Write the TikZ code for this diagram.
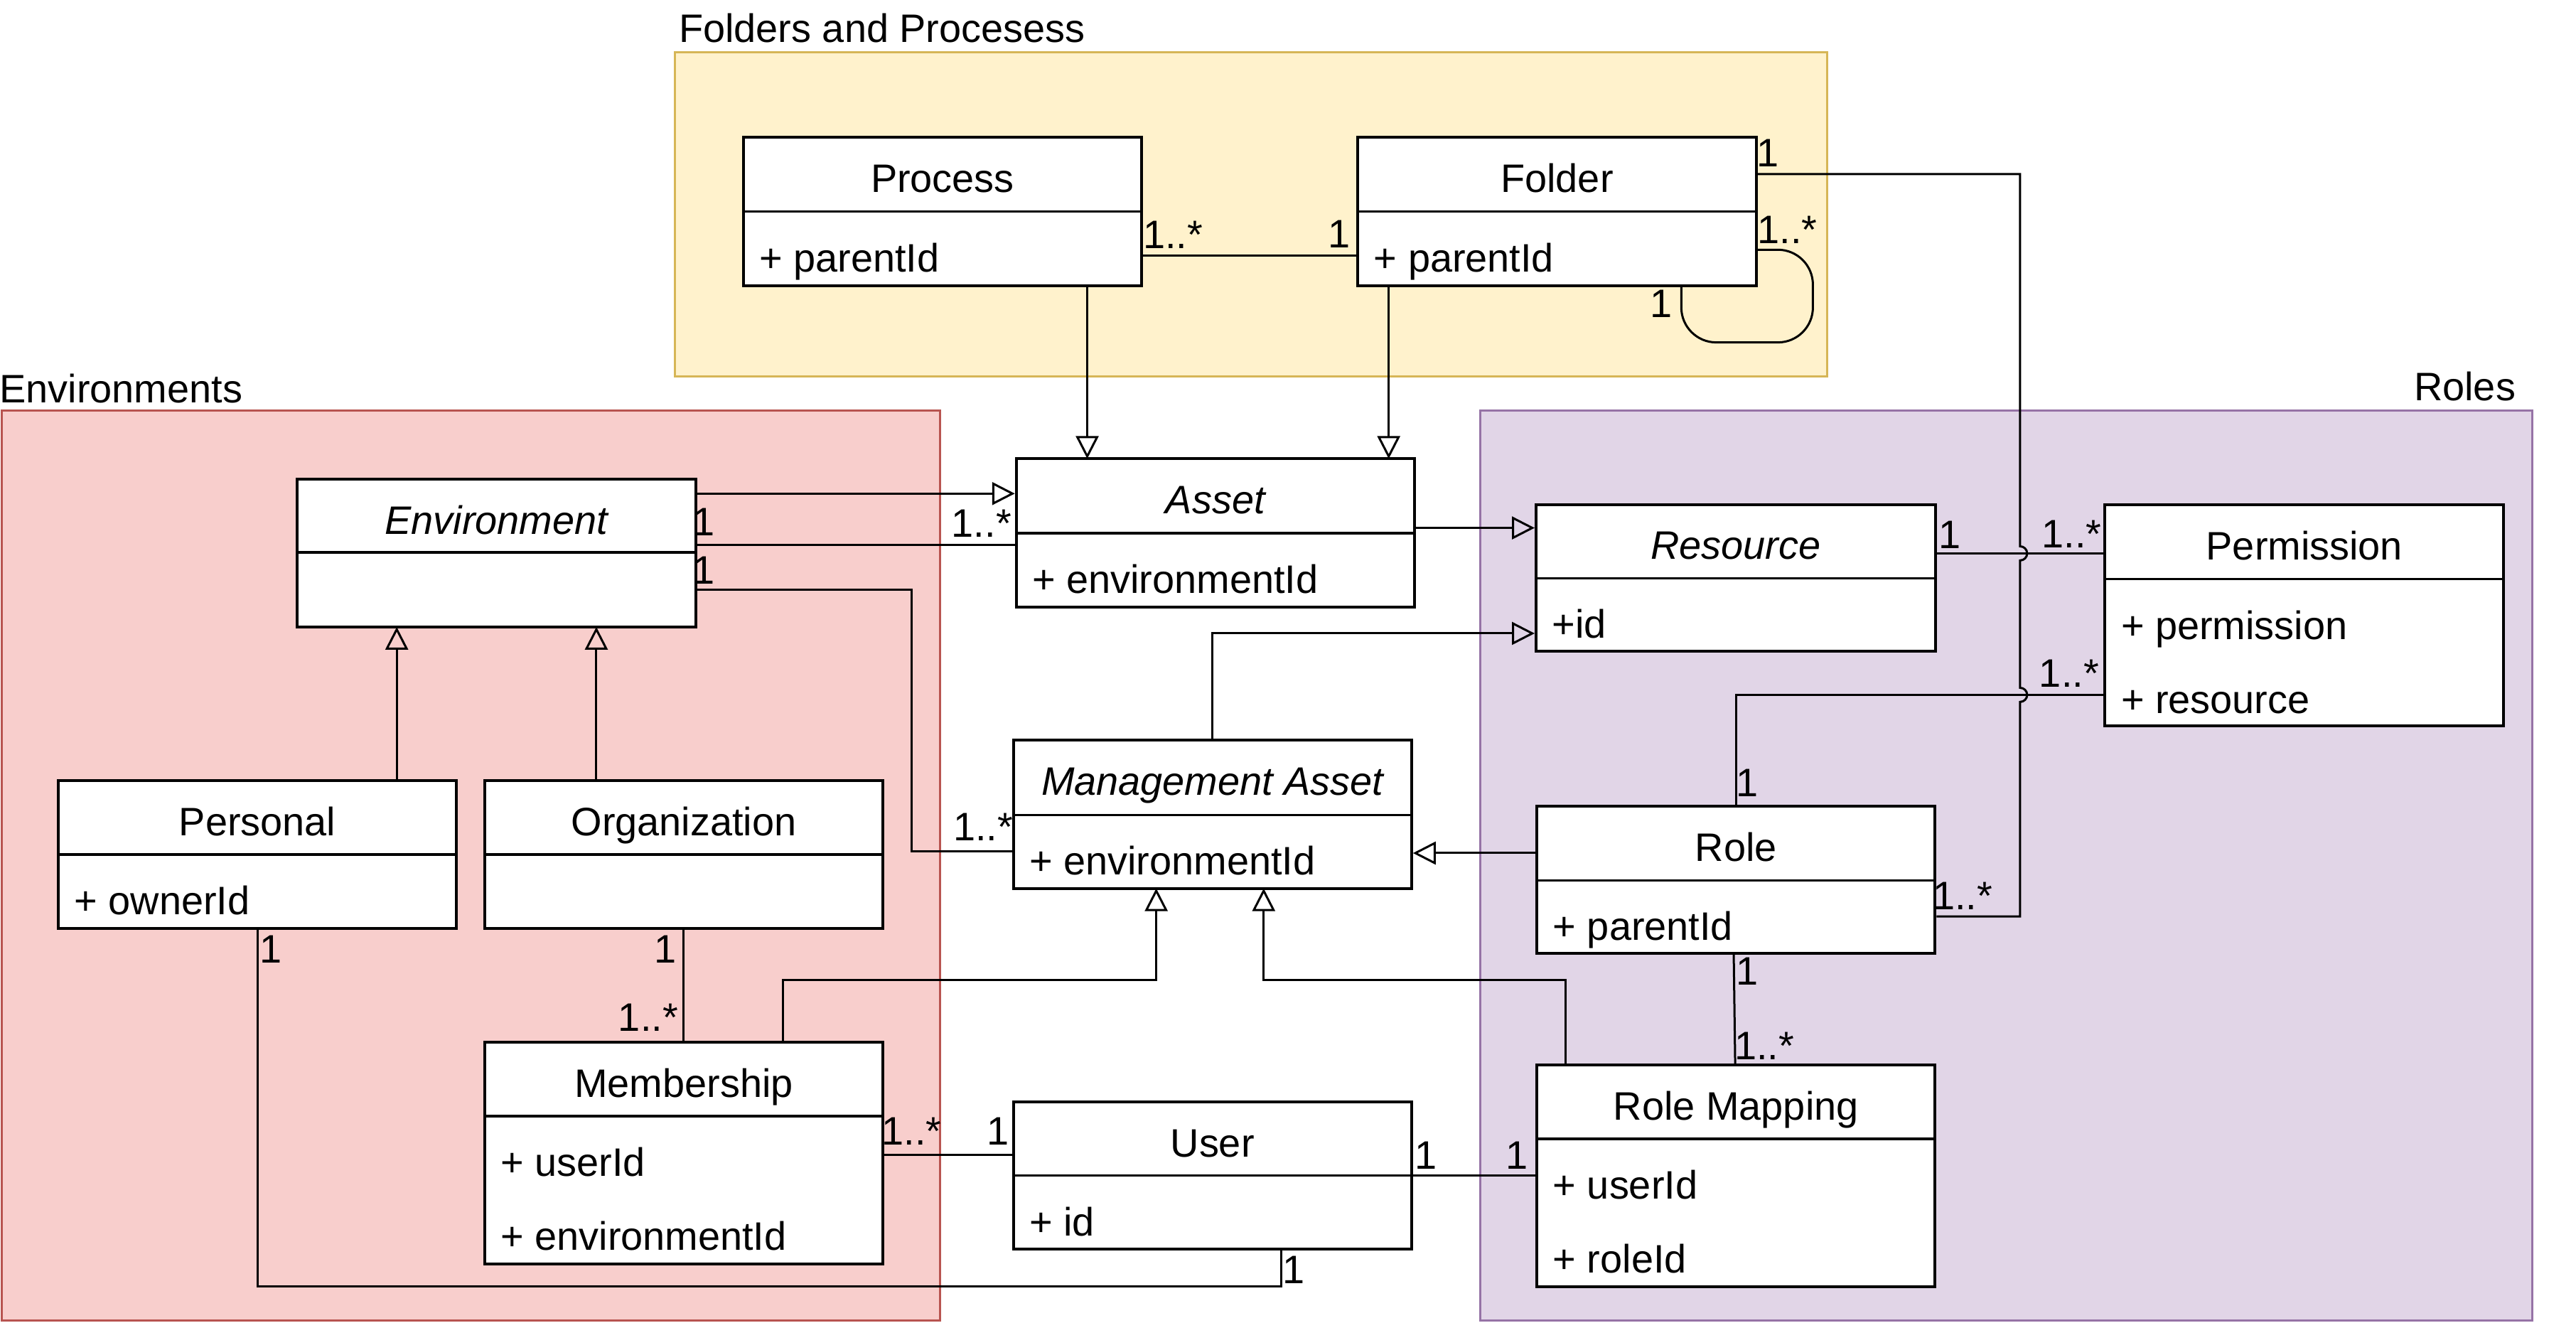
\documentclass[tikz,border=0pt]{standalone}
\usepackage{fontspec}
\setmainfont{Liberation Sans}
\usetikzlibrary{arrows.meta,fit}
\definecolor{yF}{HTML}{FFF2CC}\definecolor{yD}{HTML}{D6B656}
\definecolor{rF}{HTML}{F8CECC}\definecolor{rD}{HTML}{B85450}
\definecolor{pF}{HTML}{E1D5E7}\definecolor{pD}{HTML}{9673A6}
\newcommand{\umlbox}[7]{%
  \node[cls, fit={(#2,#3) (#4,#6)}] (#1) {};
  \draw[clsline] (#2,#5) -- (#4,#5);
  \node[ttl] (#1-t) at ({(#2+#4)/2},{#3+33.5}) {#7};
}
\newcommand{\umlattr}[5]{%
  \node[attr] (#1) at ({#2+9.5},{#3+36.5+45*#4}) {#5};
}
\begin{document}
\begin{tikzpicture}[x=0.023112cm,y=-0.023112cm,
  every node/.style={font=\fontsize{15.9}{18}\selectfont},
  cls/.style={draw=black, fill=white, line width=0.4mm, inner sep=0pt},
  clsline/.style={line width=0.35mm, black},
  ttl/.style={anchor=base, inner sep=0pt},
  attr/.style={anchor=base west, inner sep=0pt},
  mult/.style={anchor=base west, inner sep=0pt},
  glabel/.style={anchor=base west, inner sep=0pt},
  conn/.style={line width=0.3mm, black},
  gen/.style={conn, -{Triangle[open, length=9.1pt, width=9.1pt]}},
  grp/.style={line width=0.3mm, inner sep=0pt},
]
\useasboundingbox (0,0) rectangle (1568,805);

% groups
\node[grp, draw=yD, fill=yF, fit={(411,32) (1112,229)}] (gfold) {};
\node[grp, draw=rD, fill=rF, fit={(1,250) (572,803.5)}] (genv) {};
\node[grp, draw=pD, fill=pF, fit={(901,250) (1541.3,803.5)}] (groles) {};
\node[glabel] (gfold-l) at (413,25.7) {Folders and Procesess};
\node[glabel] (genv-l) at (-0.5,245) {Environments};
\node[anchor=base east, inner sep=0pt] (groles-l) at (1531.5,243.7) {Roles};

% classes
\umlbox{proc}{452.4}{83.7}{695}{128.8}{174}{Process}
\umlattr{proc-a1}{452.4}{128.8}{0}{+ parentId}
\umlbox{fold}{826.5}{83.7}{1069}{128.8}{174}{Folder}
\umlattr{fold-a1}{826.5}{128.8}{0}{+ parentId}
\umlbox{env}{180.8}{291.7}{423.4}{336.2}{381.6}{\itshape Environment}
\umlbox{asset}{618.6}{279.2}{861}{324.6}{369.6}{\itshape Asset}
\umlattr{asset-a1}{618.6}{324.6}{0}{+ environmentId}
\umlbox{res}{935}{307}{1178}{352}{396.5}{\itshape Resource}
\umlattr{res-a1}{935}{352}{0}{+id}
\umlbox{perm}{1281.3}{307.2}{1524}{352.5}{441.8}{Permission}
\umlattr{perm-a1}{1281.3}{352.5}{0}{+ permission}
\umlattr{perm-a2}{1281.3}{352.5}{1}{+ resource}
\umlbox{ma}{616.8}{450.5}{859.2}{496}{540.7}{\itshape Management Asset}
\umlattr{ma-a1}{616.8}{496}{0}{+ environmentId}
\umlbox{pers}{35.5}{475}{277.8}{520}{565}{Personal}
\umlattr{pers-a1}{35.5}{520}{0}{+ ownerId}
\umlbox{org}{295}{475}{537.4}{520}{565}{Organization}
\umlbox{role}{935.5}{490.7}{1177.9}{535.9}{580.3}{Role}
\umlattr{role-a1}{935.5}{535.9}{0}{+ parentId}
\umlbox{memb}{295}{634.2}{537.4}{679.3}{769.3}{Membership}
\umlattr{memb-a1}{295}{679.3}{0}{+ userId}
\umlattr{memb-a2}{295}{679.3}{1}{+ environmentId}
\umlbox{user}{616.8}{670.8}{859.2}{715.5}{760.4}{User}
\umlattr{user-a1}{616.8}{715.5}{0}{+ id}
\umlbox{rmap}{935.5}{648.3}{1177.9}{693.2}{783}{Role Mapping}
\umlattr{rmap-a1}{935.5}{693.2}{0}{+ userId}
\umlattr{rmap-a2}{935.5}{693.2}{1}{+ roleId}

% connectors
\draw[conn] (proc.east |- 0,155.5) -- (fold.west |- 0,155.5);
\draw[conn, rounded corners=14pt] (fold.east |- 0,152) -- (1103.5,152) -- (1103.5,208.4) -- (1023.4,208.4) -- (1023.4,174);
\draw[conn] (res.east |- 0,336.8) -- (perm.west |- 0,336.8);
\draw[conn] (perm.west |- 0,422.9) -- (1056.6,422.9) -- (1056.6,490.7);
\draw[conn] (fold.east |- 0,106) -- (1229.6,106) -- (1229.6,332.5)
  arc[start angle=-90, end angle=90, radius=4.3] -- (1229.6,418.6)
  arc[start angle=-90, end angle=90, radius=4.3] -- (1229.6,557.8) -- (role.east |- 0,557.8);
\draw[gen] (asset.east |- 0,321.3) -- (res.west |- 0,321.3);
\draw[gen] (737.8,450.5) -- (737.8,385.5) -- (res.west |- 0,385.5);
\draw[gen] (661.8,174) -- (661.8,279.2);
\draw[gen] (845.3,174) -- (845.3,279.2);
\draw[gen] (env.east |- 0,300.4) -- (asset.west |- 0,300.4);
\draw[conn] (env.east |- 0,331.6) -- (asset.west |- 0,331.6);
\draw[conn] (env.east |- 0,359) -- (554.8,359) -- (554.8,518) -- (ma.west |- 0,518);
\draw[gen] (241.5,475) -- (241.5,381.6);
\draw[gen] (363,475) -- (363,381.6);
\draw[conn] (416,565) -- (416,634.2);
\draw[gen] (476.7,634.2) -- (476.7,596.3) -- (703.8,596.3) -- (703.8,540.7);
\draw[gen] (952.8,648.3) -- (952.8,596.3) -- (769.2,596.3) -- (769.2,540.7);
\draw[gen] (role.west |- 0,519.2) -- (ma.east |- 0,519.2);
\draw[conn] (1055.3,580.3) -- (1056.2,648.3);
\draw[conn] (memb.east |- 0,702.7) -- (user.west |- 0,702.7);
\draw[conn] (user.east |- 0,715.5) -- (rmap.west |- 0,715.5);
\draw[conn] (156.9,565) -- (156.9,783) -- (779.7,783) -- (779.7,760.4);

% multiplicities
\node[mult] (m1) at (695.5,151.4) {1..*};
\node[mult] (m2) at (808,151) {1};
\node[mult] (m3) at (1069,101.4) {1};
\node[mult] (m4) at (1069.5,148) {1..*};
\node[mult] (m5) at (1004,193) {1};
\node[mult] (m6) at (1180,333.8) {1};
\node[mult] (m7) at (1242.5,333.2) {1..*};
\node[mult] (m8) at (1241,418) {1..*};
\node[mult] (m9) at (1176.2,553.4) {1..*};
\node[mult] (m10) at (1056.3,485) {1};
\node[mult] (m11) at (1056.5,599.5) {1};
\node[mult] (m12) at (1055.5,645) {1..*};
\node[mult] (m13) at (421.5,326) {1};
\node[mult] (m14) at (579,327) {1..*};
\node[mult] (m15) at (421.5,355.5) {1};
\node[mult] (m16) at (580,511.7) {1..*};
\node[mult] (m17) at (157.8,586) {1};
\node[mult] (m18) at (398.1,586) {1};
\node[mult] (m19) at (376.1,627.8) {1..*};
\node[mult] (m20) at (536.5,697) {1..*};
\node[mult] (m21) at (600.5,697) {1};
\node[mult] (m22) at (861.1,711.7) {1};
\node[mult] (m23) at (916.3,711.7) {1};
\node[mult] (m24) at (780.5,781) {1};
\end{tikzpicture}
\end{document}
